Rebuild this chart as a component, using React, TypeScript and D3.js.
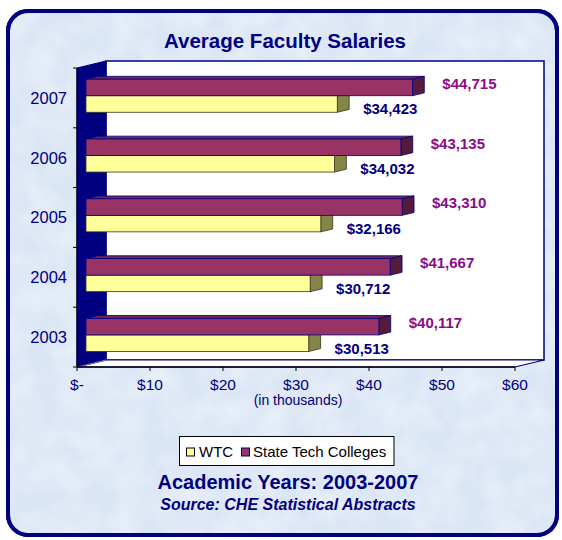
import React from "react";
import * as d3 from "d3";

const years = ["2007", "2006", "2005", "2004", "2003"];
const stateValues = [44715, 43135, 43310, 41667, 40117];
const wtcValues = [34423, 34032, 32166, 30712, 30513];
const xTicks = [0, 10, 20, 30, 40, 50, 60];
const xTickLabels = ["$-", "$10", "$20", "$30", "$40", "$50", "$60"];
const seriesNames = ["WTC", "State Tech Colleges"];

const W = 562;
const H = 540;
const NAVY = "#000080";

export default function App() {
  // front plane geometry
  const x = d3.scaleLinear().domain([0, 60]).range([77, 515]);
  const y = d3.scaleBand<string>().domain(years).range([68, 367]).padding(0);
  const inner = d3
    .scaleBand<string>()
    .domain(["state", "wtc"])
    .range([0, y.bandwidth()])
    .paddingInner(0)
    .paddingOuter(0.81);

  const DX = 29, DY = -7; // full depth
  const fdx = DX * 0.31, fdy = DY * 0.31; // bar front offset
  const bdx = DX * 0.41, bdy = DY * 0.41; // bar depth

  const fmt = (v: number) => "$" + d3.format(",")(v);

  const x0 = x(0), x1 = x(60);
  const yTop = 68, yBot = 367;

  const bar = (v: number, yy: number, h: number, c: { front: string; top: string; side: string; stroke: string }, key: string) => {
    const a = x0 + fdx;
    const b = x(v / 1000) + fdx;
    const t = yy + fdy;
    const pts = (p: number[][]) => p.map((q) => q.join(",")).join(" ");
    return (
      <g key={key}>
        <polygon
          points={pts([[a, t], [b, t], [b + bdx, t + bdy], [a + bdx, t + bdy]])}
          fill={c.top}
          stroke={c.stroke}
          strokeWidth={0.8}
          strokeLinejoin="round"
        />
        <polygon
          points={pts([[b, t], [b + bdx, t + bdy], [b + bdx, t + h + bdy], [b, t + h]])}
          fill={c.side}
          stroke={c.stroke}
          strokeWidth={0.8}
          strokeLinejoin="round"
        />
        <rect x={a} y={t} width={b - a} height={h} fill={c.front} stroke={c.stroke} strokeWidth={0.8} />
      </g>
    );
  };

  const stateC = { front: "#993366", top: "#74264f", side: "#561a3a", stroke: NAVY };
  const wtcC = { front: "#ffff99", top: "#d8d880", side: "#858548", stroke: "#333322" };

  return (
    <svg
      width={W}
      height={H}
      style={{ position: "absolute", left: 0, top: 0, display: "block" }}
      fontFamily="Arial, 'Liberation Sans', sans-serif"
    >
      <defs>
        <filter id="tex" x="0" y="0" width="100%" height="100%">
          <feTurbulence type="fractalNoise" baseFrequency="0.035" numOctaves={3} seed={4} result="n" />
          <feColorMatrix
            in="n"
            type="matrix"
            values="0 0 0 0 1  0 0 0 0 1  0 0 0 0 1  0 0 0 -1.6 1.1"
          />
        </filter>
        <clipPath id="frameClip">
          <rect x={8} y={11} width={549} height={524} rx={20} />
        </clipPath>
      </defs>
      <rect x={0} y={0} width={W} height={H} fill="#ffffff" />
      {/* frame shadow */}
      <rect x={8} y={11} width={550.5} height={525.5} rx={20.5} fill="#000000" />
      <rect x={8} y={11} width={549} height={524} rx={20} fill="#dbe6f5" stroke={NAVY} strokeWidth={4} />
      <g clipPath="url(#frameClip)" opacity={0.4}>
        <rect x={8} y={11} width={549} height={524} filter="url(#tex)" />
      </g>
      <rect x={8} y={11} width={549} height={524} rx={20} fill="none" stroke={NAVY} strokeWidth={4} />

      {/* title */}
      <text x={285} y={48} textAnchor="middle" fontSize={20.5} fontWeight="bold" fill={NAVY}>
        Average Faculty Salaries
      </text>

      {/* back wall */}
      <rect x={x0 + DX} y={yTop + DY} width={x1 - x0} height={yBot - yTop} fill="#ffffff" stroke={NAVY} strokeWidth={1.5} />
      {/* floor */}
      <polygon
        points={`${x0},${yBot} ${x0 + DX},${yBot + DY} ${x1 + DX},${yBot + DY} ${x1},${yBot}`}
        fill="#ffffff"
        stroke={NAVY}
        strokeWidth={1.2}
      />
      {/* left wall */}
      <polygon
        points={`${x0},${yTop} ${x0 + DX},${yTop + DY} ${x0 + DX},${yBot + DY} ${x0},${yBot}`}
        fill={NAVY}
        stroke={NAVY}
        strokeWidth={1}
      />
      <line x1={x0 + 1} y1={yBot} x2={x0 + DX} y2={yBot + DY} stroke="#9aa0c8" strokeWidth={0.8} />

      {/* bars */}
      {years.map((yr, i) => {
        const by = y(yr)!;
        const h = inner.bandwidth();
        return (
          <g key={yr}>
            {bar(wtcValues[i], by + inner("wtc")!, h, wtcC, "w")}
            {bar(stateValues[i], by + inner("state")!, h, stateC, "s")}
          </g>
        );
      })}

      {/* value labels */}
      {years.map((yr, i) => {
        const by = y(yr)!;
        const h = inner.bandwidth();
        const sy = by + inner("state")! + fdy + h / 2;
        const wy = by + inner("wtc")! + fdy + h / 2;
        return (
          <g key={"l" + yr} fontSize={15} fontWeight="bold">
            <text x={x(stateValues[i] / 1000) + fdx + bdx + 18} y={sy - 4 + 5.4} fill="#8a0a88">
              {fmt(stateValues[i])}
            </text>
            <text x={x(wtcValues[i] / 1000) + fdx + bdx + 14} y={wy + 5 + 5.4} fill={NAVY}>
              {fmt(wtcValues[i])}
            </text>
          </g>
        );
      })}

      {/* axes */}
      <line x1={x0} y1={yTop} x2={x0} y2={yBot} stroke="#000" strokeWidth={1.2} />
      <line x1={x0} y1={yBot} x2={x1} y2={yBot} stroke="#000" strokeWidth={1.5} />
      {xTicks.map((t) => (
        <line key={"xt" + t} x1={x(t)} y1={yBot} x2={x(t)} y2={yBot + 4} stroke="#000" strokeWidth={1} />
      ))}
      {[...years.map((yr) => y(yr)!), yBot].map((v, i) => (
        <line key={"yt" + i} x1={x0 - 4} y1={v} x2={x0} y2={v} stroke="#000" strokeWidth={1} />
      ))}
      {xTickLabels.map((lab, i) => (
        <text key={"xl" + i} x={x(xTicks[i])} y={389.5} textAnchor="middle" fontSize={15.5} fill={NAVY}>
          {lab}
        </text>
      ))}
      {years.map((yr) => (
        <text key={"yl" + yr} x={67} y={y(yr)! + y.bandwidth() / 2 + 5.8} textAnchor="end" fontSize={16.5} fill={NAVY}>
          {yr}
        </text>
      ))}
      <text x={298} y={404.5} textAnchor="middle" fontSize={14} fill={NAVY}>
        (in thousands)
      </text>

      {/* legend */}
      <rect x={179.5} y={436.5} width={214.5} height={29} fill="#ffffff" stroke="#000" strokeWidth={1} />
      <rect x={186.5} y={448} width={8} height={8} fill="#ffff99" stroke="#000" strokeWidth={1} />
      <text x={199} y={456.5} fontSize={15} fill="#000">{seriesNames[0]}</text>
      <rect x={241.5} y={448} width={8} height={8} fill="#993366" stroke={NAVY} strokeWidth={1} />
      <text x={253} y={456.5} fontSize={15} fill="#000">{seriesNames[1]}</text>

      {/* footer */}
      <text x={288} y={488.5} textAnchor="middle" fontSize={20} fontWeight="bold" fill={NAVY}>
        Academic Years: 2003-2007
      </text>
      <text x={288} y={510} textAnchor="middle" fontSize={16} fontWeight="bold" fontStyle="italic" fill={NAVY}>
        Source: CHE Statistical Abstracts
      </text>
    </svg>
  );
}
